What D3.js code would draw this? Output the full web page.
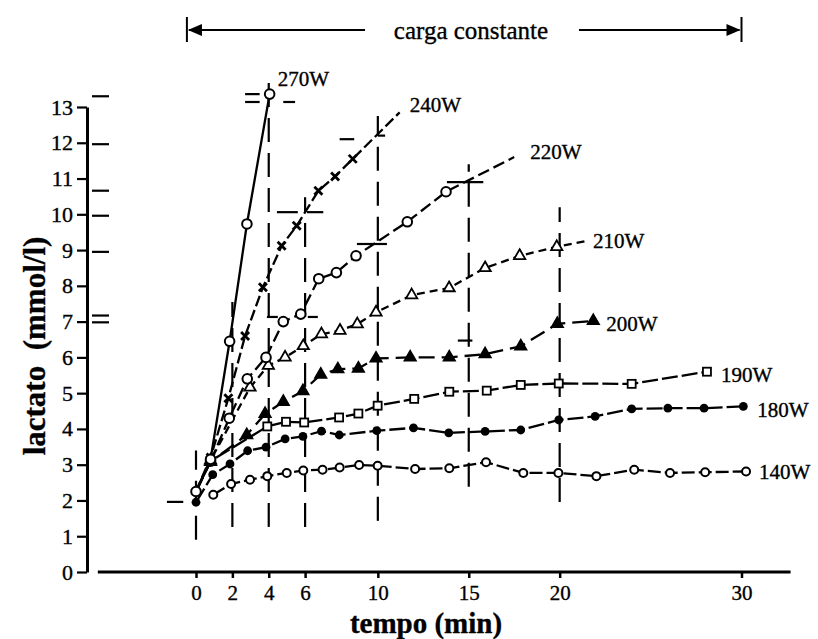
<!DOCTYPE html>
<html>
<head>
<meta charset="utf-8">
<script src="https://cdn.jsdelivr.net/npm/d3@7"></script>
<style>
body { margin: 0; background: #fff; }
text { font-family: "Liberation Serif", "Times New Roman", serif; fill: #000; stroke: #000; stroke-width: 0.35px; }
</style>
</head>
<body>
<div id="chart"></div>
<script>
// tick values
const xTicks = [0, 2, 4, 6, 10, 15, 20, 30];
const yTicks = d3.range(0, 14);

// resting values at t = 0
const restOpen = [0, 2.25];
const restFilled = [0, 1.95];

// series (time in min, lactate in mmol/l)
const t270 = [0.8, 1.85, 2.8, 4.05];
const v270 = [3.15, 6.45, 9.73, 13.36];

const t240 = [0.8, 1.78, 2.7, 3.68, 4.71, 5.54, 6.73, 7.65, 8.62];
const v240 = [3.2, 4.86, 6.6, 7.96, 9.12, 9.68, 10.66, 11.06, 11.55];
const tail240 = [11.2, 12.85];

const t220 = [0.8, 1.83, 2.82, 3.85, 4.8, 5.76, 6.75, 7.72, 8.8, 11.62, 13.75];
const v220 = [3.1, 4.3, 5.4, 6.0, 7.0, 7.21, 8.2, 8.37, 8.84, 9.79, 10.63];
const tail220 = [17.5, 11.6];

const t210 = [0.8, 2.97, 3.98, 4.9, 5.9, 6.9, 7.92, 8.87, 9.9, 11.86, 13.92, 15.9, 17.8, 19.84];
const v210 = [3.12, 5.16, 5.77, 6.0, 6.32, 6.65, 6.75, 6.93, 7.26, 7.74, 7.94, 8.5, 8.84, 9.09];
const tail210 = [21.4, 9.25];

const t200 = [0.8, 2.79, 3.8, 4.8, 5.88, 6.86, 7.8, 8.93, 9.9, 11.78, 13.93, 15.9, 17.86, 19.87, 21.85];
const v200 = [3.08, 3.83, 4.42, 4.76, 5.06, 5.52, 5.67, 5.69, 5.97, 6.0, 6.0, 6.09, 6.31, 6.94, 7.02];

const t190 = [0.8, 3.92, 4.95, 5.95, 7.87, 8.93, 9.99, 12.0, 13.93, 15.99, 17.86, 19.95, 23.96, 28.1];
const v190 = [3.1, 4.07, 4.2, 4.18, 4.32, 4.43, 4.65, 4.84, 5.04, 5.07, 5.23, 5.27, 5.26, 5.6];

const t180 = [0.92, 1.87, 2.84, 3.85, 4.9, 5.88, 6.9, 7.88, 9.94, 11.96, 13.9, 15.9, 17.86, 19.95, 21.95, 23.96, 25.95, 27.94, 30.1];
const v180 = [2.72, 3.02, 3.39, 3.49, 3.72, 3.79, 3.94, 3.83, 3.95, 4.03, 3.89, 3.93, 3.97, 4.25, 4.35, 4.56, 4.58, 4.58, 4.63];

const t140 = [0.95, 1.93, 2.97, 3.92, 4.99, 5.9, 6.96, 7.9, 8.97, 9.99, 12.05, 13.93, 15.95, 18.0, 19.93, 22.02, 24.1, 26.07, 28.0, 30.25];
const v140 = [2.16, 2.46, 2.58, 2.68, 2.77, 2.84, 2.86, 2.92, 2.99, 2.97, 2.88, 2.9, 3.07, 2.77, 2.77, 2.68, 2.86, 2.77, 2.79, 2.81];

// dashed vertical guides at sampling times: [t, vBottom, vTop]
const guideT = [0, 2, 4, 6, 10, 15, 20];
const guideLo = [0.9, 1.26, 1.26, 1.26, 1.43, 2.38, 1.96];
const guideHi = [3.4, 7.55, 13.98, 10.48, 12.75, 11.4, 10.2];

// short horizontal arms of the cross marks: [tFrom, tTo, v]
const armT1 = [-1.6, 2.7, 2.7, 4.8, 4.45, 6.1, 7.9, 10.0, 3.9, 6.15, 8.85, 13.8, 14.4];
const armT2 = [-0.7, 3.5, 3.5, 5.45, 5.6, 7.0, 8.7, 10.4, 4.5, 6.7, 10.5, 15.8, 15.2];
const armV = [1.96, 13.36, 13.14, 13.14, 10.06, 10.06, 12.1, 12.2, 7.13, 7.13, 9.17, 10.9, 6.47];

// marks beside the y axis
const axisMarks = [13.3, 11.96, 10.66, 9.96, 8.95, 7.17, 6.98];

const series = [
    { name: "270W", t: t270, v: v270, rest: restOpen, tail: null, marker: "circle", dash: null, dx: 8, dy: -15 },
    { name: "240W", t: t240, v: v240, rest: restOpen, tail: tail240, marker: "x", dash: "11,4", dx: 10, dy: -8 },
    { name: "220W", t: t220, v: v220, rest: restOpen, tail: tail220, marker: "circle", dash: "12,5", dx: 16, dy: -5 },
    { name: "210W", t: t210, v: v210, rest: restOpen, tail: tail210, marker: "triangle", dash: "8,5", dx: 8, dy: 0 },
    { name: "200W", t: t200, v: v200, rest: restOpen, tail: null, marker: "triangleFilled", dash: "16,7", dx: 13, dy: 3 },
    { name: "190W", t: t190, v: v190, rest: restOpen, tail: null, marker: "square", dash: "16,4", dx: 14, dy: 3 },
    { name: "180W", t: t180, v: v180, rest: restFilled, tail: null, marker: "dot", dash: "16,4", dx: 14, dy: 3 },
    { name: "140W", t: t140, v: v140, rest: null, tail: null, marker: "smallcircle", dash: "13,4", dx: 13, dy: 0 }
];

const width = 818, height = 639;

const svg = d3.select("#chart").append("svg")
    .attr("width", width)
    .attr("height", height);

const x = d3.scaleLinear().domain([0, 30]).range([196, 741.5]);
const y = d3.scaleLinear().domain([0, 13]).range([572, 107]);

// vertical guides
svg.selectAll(".guide")
    .data(guideT)
    .enter().append("line")
    .attr("class", "guide")
    .attr("x1", d => x(d)).attr("x2", d => x(d))
    .attr("y1", (d, i) => y(guideLo[i]))
    .attr("y2", (d, i) => y(guideHi[i]))
    .attr("stroke", "#000")
    .attr("stroke-width", 2.2)
    .attr("stroke-dasharray", "24,11");

// horizontal arms
svg.selectAll(".arm")
    .data(armV)
    .enter().append("line")
    .attr("class", "arm")
    .attr("x1", (d, i) => x(armT1[i]))
    .attr("x2", (d, i) => x(armT2[i]))
    .attr("y1", d => y(d)).attr("y2", d => y(d))
    .attr("stroke", "#000")
    .attr("stroke-width", 2.2);

// y axis side marks
svg.selectAll(".amark")
    .data(axisMarks)
    .enter().append("line")
    .attr("class", "amark")
    .attr("x1", 92).attr("x2", 109)
    .attr("y1", d => y(d)).attr("y2", d => y(d))
    .attr("stroke", "#000")
    .attr("stroke-width", 2.2);

// lines
const line = d3.line().x(d => x(d[0])).y(d => y(d[1]));

series.forEach(s => {
    let pts = s.t.map((t, i) => [t, s.v[i]]);
    if (s.rest) pts = [s.rest].concat(pts);
    if (s.tail) pts = pts.concat([s.tail]);
    svg.append("path")
        .attr("d", line(pts))
        .attr("fill", "none")
        .attr("stroke", "#000")
        .attr("stroke-width", 2.3)
        .attr("stroke-dasharray", s.dash);
});

// markers
function drawMarker(g, type) {
    if (type === "circle" || type === "smallcircle") {
        g.append("circle").attr("r", type === "circle" ? 4.8 : 4.0)
            .attr("fill", "#fff").attr("stroke", "#000").attr("stroke-width", 2);
    } else if (type === "dot") {
        g.append("circle").attr("r", 4.4).attr("fill", "#000");
    } else if (type === "square") {
        g.append("rect").attr("x", -4).attr("y", -4).attr("width", 8).attr("height", 8)
            .attr("fill", "#fff").attr("stroke", "#000").attr("stroke-width", 1.8);
    } else if (type === "triangle" || type === "triangleFilled") {
        g.append("path").attr("d", d3.symbol(d3.symbolTriangle, 55)())
            .attr("fill", type === "triangle" ? "#fff" : "#000")
            .attr("stroke", "#000").attr("stroke-width", 1.8);
    } else if (type === "x") {
        g.append("path").attr("d", "M-4,-4L4,4M-4,4L4,-4")
            .attr("fill", "none").attr("stroke", "#000").attr("stroke-width", 2.8);
    }
}

series.slice().reverse().forEach(s => {
    s.t.forEach((t, i) => {
        const g = svg.append("g").attr("transform", `translate(${x(t)},${y(s.v[i])})`);
        drawMarker(g, s.marker);
    });
});

// resting markers
drawMarker(svg.append("g").attr("transform", `translate(${x(restOpen[0])},${y(restOpen[1])})`), "circle");
drawMarker(svg.append("g").attr("transform", `translate(${x(restFilled[0])},${y(restFilled[1])})`), "dot");

// series labels
series.forEach(s => {
    const last = s.tail ? s.tail : [s.t[s.t.length - 1], s.v[s.v.length - 1]];
    svg.append("text")
        .attr("x", x(last[0]) + s.dx)
        .attr("y", y(last[1]) + s.dy)
        .attr("dy", "0.35em")
        .style("font-size", "21px")
        .text(s.name);
});

// axes
const xAxis = svg.append("g")
    .attr("transform", "translate(0," + y(0) + ")")
    .call(d3.axisBottom(x).tickValues(xTicks).tickSize(6).tickSizeOuter(0).tickPadding(7));
xAxis.select(".domain").remove();
xAxis.selectAll(".tick line").attr("stroke-width", 2.5);
xAxis.selectAll("text").style("font-size", "21px").style("font-family", "Liberation Serif");

svg.append("line")
    .attr("x1", x(-5.4)).attr("x2", x(32.7))
    .attr("y1", y(0)).attr("y2", y(0))
    .attr("stroke", "#000").attr("stroke-width", 3);

const yAxis = svg.append("g")
    .attr("transform", "translate(87,0)")
    .call(d3.axisLeft(y).tickValues(yTicks).tickSize(10).tickSizeOuter(0).tickPadding(4));
yAxis.select(".domain").attr("stroke-width", 3);
yAxis.selectAll(".tick line").attr("stroke-width", 2.2);
yAxis.selectAll("text").style("font-size", "22px").style("font-family", "Liberation Serif");

// axis titles
svg.append("text")
    .attr("x", 426).attr("y", 633)
    .attr("text-anchor", "middle")
    .style("font-size", "29px").style("font-weight", "bold")
    .text("tempo (min)");

svg.append("text")
    .attr("transform", "translate(45,346) rotate(-90)")
    .attr("text-anchor", "middle")
    .style("font-size", "31px").style("font-weight", "bold")
    .text("lactato\u00a0\u00a0(mmol/l)");

// top annotation: constant load
const topY = 30;
svg.append("line").attr("x1", x(-0.5)).attr("x2", x(-0.5)).attr("y1", 17).attr("y2", 42)
    .attr("stroke", "#000").attr("stroke-width", 2);
svg.append("line").attr("x1", x(30)).attr("x2", x(30)).attr("y1", 17).attr("y2", 42)
    .attr("stroke", "#000").attr("stroke-width", 2);
svg.append("line").attr("x1", x(-0.5) + 2).attr("x2", 365).attr("y1", topY).attr("y2", topY)
    .attr("stroke", "#000").attr("stroke-width", 2);
svg.append("line").attr("x1", 579).attr("x2", x(30) - 2).attr("y1", topY).attr("y2", topY)
    .attr("stroke", "#000").attr("stroke-width", 2);
const lx = x(-0.5), rx = x(30);
svg.append("path").attr("d", `M${lx + 1},${topY} L${lx + 15},${topY - 6} L${lx + 15},${topY + 6} Z`).attr("fill", "#000");
svg.append("path").attr("d", `M${rx - 1},${topY} L${rx - 15},${topY - 6} L${rx - 15},${topY + 6} Z`).attr("fill", "#000");
svg.append("text")
    .attr("x", 471).attr("y", topY).attr("dy", "0.35em")
    .attr("text-anchor", "middle")
    .style("font-size", "25px")
    .text("carga constante");
</script>
</body>
</html>
